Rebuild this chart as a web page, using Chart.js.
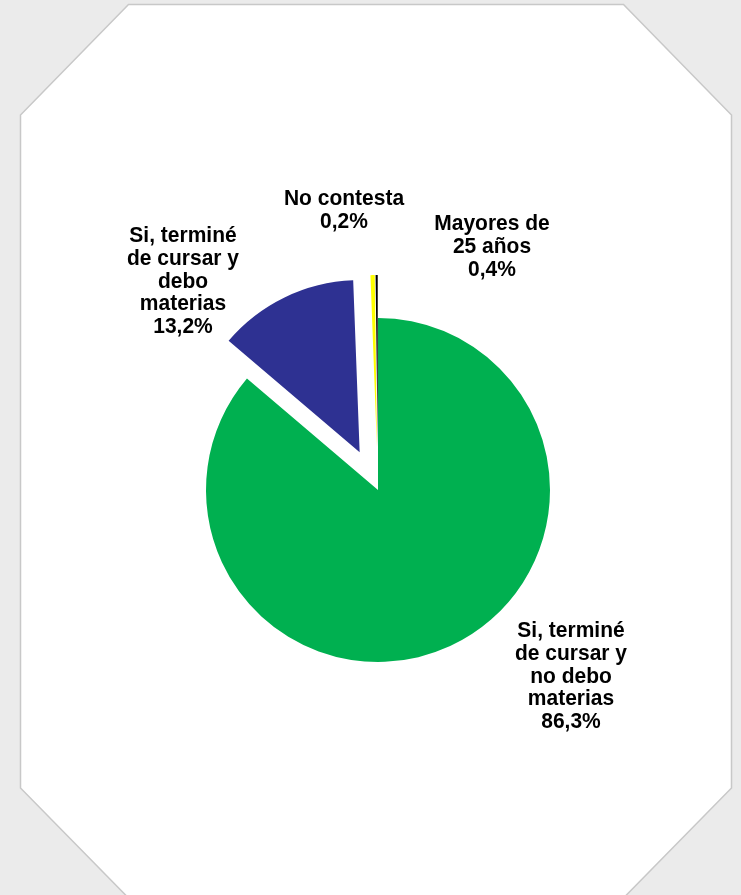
<!DOCTYPE html>
<html>
<head>
<meta charset="utf-8">
<script src="https://cdn.jsdelivr.net/npm/chart.js@4.4.1/dist/chart.umd.min.js"></script>
<style>
  html, body { margin: 0; padding: 0; background: #ebebeb; }
  #wrap { position: relative; width: 741px; height: 895px; overflow: hidden; }
  #bg { position: absolute; left: 0; top: 0; }
  #c { position: absolute; left: 0; top: 0; }
</style>
</head>
<body>
<div id="wrap">
  <svg id="bg" width="741" height="895">
    <polygon points="128.5,4.5 623.5,4.5 731.5,115 731.5,788 623.5,898 128.5,898 20.5,788 20.5,115"
             fill="#ffffff" stroke="#c8c8c8" stroke-width="1.5"/>
  </svg>
  <canvas id="c" width="741" height="895"></canvas>
</div>
<script>
// ---- Data ----
const categories = [
  ["Si, terminé", "de cursar y", "no debo", "materias"],
  ["Si, terminé", "de cursar y", "debo", "materias"],
  ["Mayores de", "25 años"],
  ["No contesta"]
];
const values = [86.3, 13.2, 0.4, 0.2];
const colors = ["#00b050", "#2e3192", "#ffff00", "#000000"];

// ---- Layout / style (not data) ----
const explodeDistances = [0, 42, 43, 43];
const labelAnchors = [   // offset of first baseline, relative to pie center
  { dx: 193, dy: 147 },
  { dx: -195, dy: -248 },
  { dx: 114, dy: -260 },
  { dx: -34, dy: -285 }
];
const LABEL_FONT = "bold 21px 'Liberation Sans', Arial, sans-serif";
const LINE_H = 22.8;
const TEXT_VSCALE = 1.05;

function fmtPct(v) { return v.toFixed(1).replace('.', ',') + '%'; }

const explodePlugin = {
  id: 'explodeSlices',
  beforeDatasetDraw(chart, args) {
    const ctx = chart.ctx;
    args.meta.data.forEach((arc, i) => {
      const d = explodeDistances[i] || 0;
      const mid = (arc.startAngle + arc.endAngle) / 2;
      ctx.save();
      ctx.translate(Math.cos(mid) * d, Math.sin(mid) * d);
      arc.draw(ctx);
      ctx.restore();
    });
    return false;
  },
  afterDatasetsDraw(chart) {
    const ctx = chart.ctx;
    const meta = chart.getDatasetMeta(0);
    const ds = chart.data.datasets[0];
    meta.data.forEach((arc, i) => {
      const a = labelAnchors[i];
      const lines = [].concat(chart.data.labels[i], [fmtPct(ds.data[i])]);
      lines.forEach((t, k) => {
        ctx.save();
        ctx.font = LABEL_FONT;
        ctx.fillStyle = "#000000";
        ctx.textAlign = "center";
        ctx.textBaseline = "alphabetic";
        ctx.translate(arc.x + a.dx, arc.y + a.dy + k * LINE_H);
        ctx.scale(1, TEXT_VSCALE);
        ctx.fillText(t, 0, 0);
        ctx.restore();
      });
    });
  }
};

new Chart(document.getElementById('c'), {
  type: 'pie',
  data: {
    labels: categories,
    datasets: [{
      data: values,
      backgroundColor: colors,
      borderWidth: 0,
      radius: 172
    }]
  },
  options: {
    responsive: false,
    animation: false,
    devicePixelRatio: 1,
    layout: { padding: { left: 15, right: 0, top: 85, bottom: 0 } },
    plugins: {
      legend: { display: false },
      tooltip: { enabled: false }
    }
  },
  plugins: [explodePlugin]
});
</script>
</body>
</html>
